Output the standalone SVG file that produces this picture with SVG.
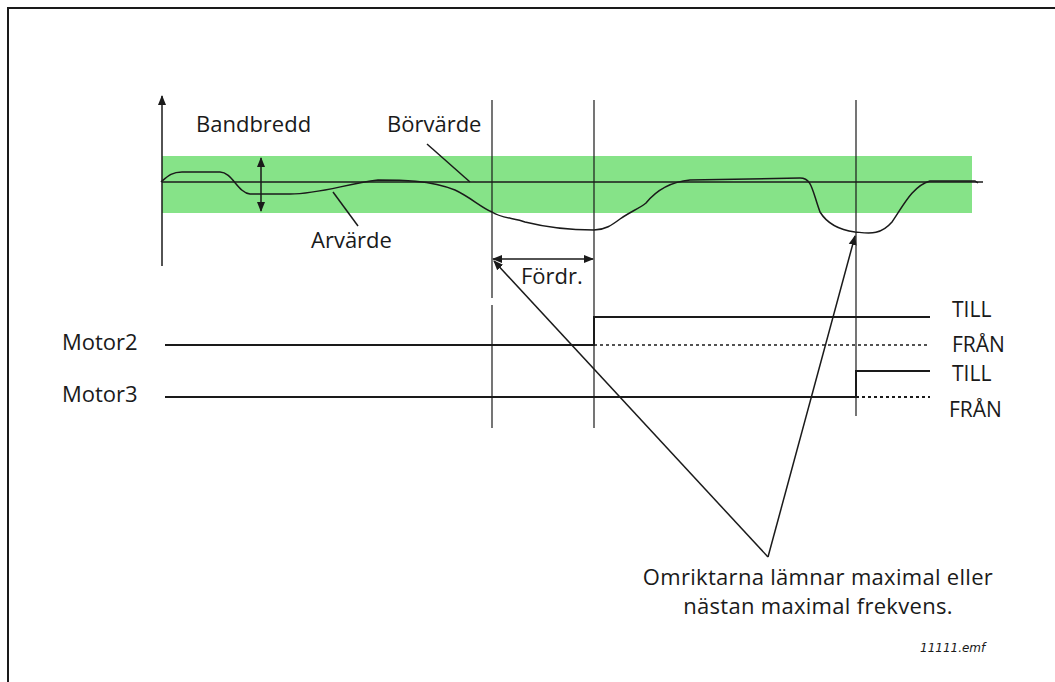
<svg xmlns="http://www.w3.org/2000/svg" width="1055" height="682" viewBox="0 0 1055 682">
<style>
.t{font-family:"Open Sans","Liberation Sans",sans-serif;font-size:22px;fill:#1a1a1a}
.s{font-size:21px}
.ln{stroke:#1a1a1a;fill:none}
</style>
<defs>
<marker id="ah" viewBox="0 0 10 10" refX="9" refY="5" markerWidth="10" markerHeight="10" markerUnits="userSpaceOnUse" orient="auto-start-reverse">
<path d="M0,1 L10,5 L0,9 z" fill="#1a1a1a"/>
</marker>
</defs>
<rect width="1055" height="682" fill="#fff"/>
<rect x="8" y="8" width="1100" height="720" fill="none" stroke="#1a1a1a" stroke-width="2"/>
<g id="band">
<rect x="162" y="156" width="810" height="57" fill="#86e388"/>
</g>
<g id="axis">
<line class="ln" x1="162" y1="266" x2="162" y2="96" stroke-width="1.5" marker-end="url(#ah)"/>
</g>
<g id="setpoint">
<line class="ln" x1="162" y1="182" x2="983" y2="182" stroke-width="1.5"/>
</g>
<g id="actual">
<path class="ln" stroke-width="1.5" d="M161,182 C168,176 172,172 182,172 L220,172 C232,172 238,193 250,194 L290,194 C320,194 345,184 378,180 C400,180 430,180 455,190 C470,197 482,208 492,212 C500,218 515,218 525,222 C545,227 570,230 594,230 C605,230 612,225 620,219 C630,212 640,208 646,203 C655,192 668,182 690,180 L800,178 C812,178 812,190 820,212 C828,225 840,230 855,232 C868,233 880,236 892,222 C902,208 912,186 930,181 L975,181 L978,183"/>
</g>
<g id="bandwidth">
<line class="ln" x1="261" y1="158" x2="261" y2="211" stroke-width="1.5" marker-start="url(#ah)" marker-end="url(#ah)"/>
<text class="t" x="196" y="132">Bandbredd</text>
</g>
<g id="borvarde">
<text class="t" x="387" y="132">Börvärde</text>
<line class="ln" x1="427" y1="144" x2="470" y2="182" stroke-width="1.5"/>
</g>
<g id="arvarde">
<text class="t" x="311" y="248">Arvärde</text>
<line class="ln" x1="358" y1="226" x2="333" y2="192" stroke-width="1.5"/>
</g>
<g id="verticals">
<line class="ln" x1="492" y1="100" x2="492" y2="298" stroke-width="1.2"/>
<line class="ln" x1="492" y1="305" x2="492" y2="428" stroke-width="1.2"/>
<line class="ln" x1="594" y1="100" x2="594" y2="428" stroke-width="1.2"/>
<line class="ln" x1="856" y1="100" x2="856" y2="416" stroke-width="1.2"/>
</g>
<g id="fordr">
<line class="ln" x1="493" y1="259" x2="593" y2="259" stroke-width="1.5" marker-start="url(#ah)" marker-end="url(#ah)"/>
<text class="t" x="521" y="284">Fördr.</text>
</g>
<g id="motor2">
<text class="t" x="62" y="350">Motor2</text>
<path class="ln" stroke-width="2" d="M165,345 L594,345 L594,317 L930,317"/>
<line class="ln" x1="594" y1="345" x2="930" y2="345" stroke-width="1.5" stroke-dasharray="3,3"/>
<text class="t s" x="952" y="317">TILL</text>
<text class="t s" x="952" y="352">FRÅN</text>
</g>
<g id="motor3">
<text class="t" x="62" y="402">Motor3</text>
<path class="ln" stroke-width="2" d="M165,397 L856,397 L856,371 L930,371"/>
<line class="ln" x1="856" y1="397" x2="930" y2="397" stroke-width="2" stroke-dasharray="3,3"/>
<text class="t s" x="952" y="381">TILL</text>
<text class="t s" x="949" y="417">FRÅN</text>
</g>
<g id="connectors">
<line class="ln" x1="768" y1="557" x2="494" y2="261" stroke-width="1.5" marker-end="url(#ah)"/>
<line class="ln" x1="768" y1="557" x2="855" y2="236" stroke-width="1.5" marker-end="url(#ah)"/>
</g>
<g id="note">
<text class="t" x="818" y="585" text-anchor="middle" letter-spacing="0.3">Omriktarna lämnar maximal eller</text>
<text class="t" x="818" y="614" text-anchor="middle" letter-spacing="0.3">nästan maximal frekvens.</text>
</g>
<g id="filename">
<text x="920" y="652" font-family="DejaVu Sans, sans-serif" font-size="12" font-style="italic" fill="#1a1a1a">11111.emf</text>
</g>
</svg>
